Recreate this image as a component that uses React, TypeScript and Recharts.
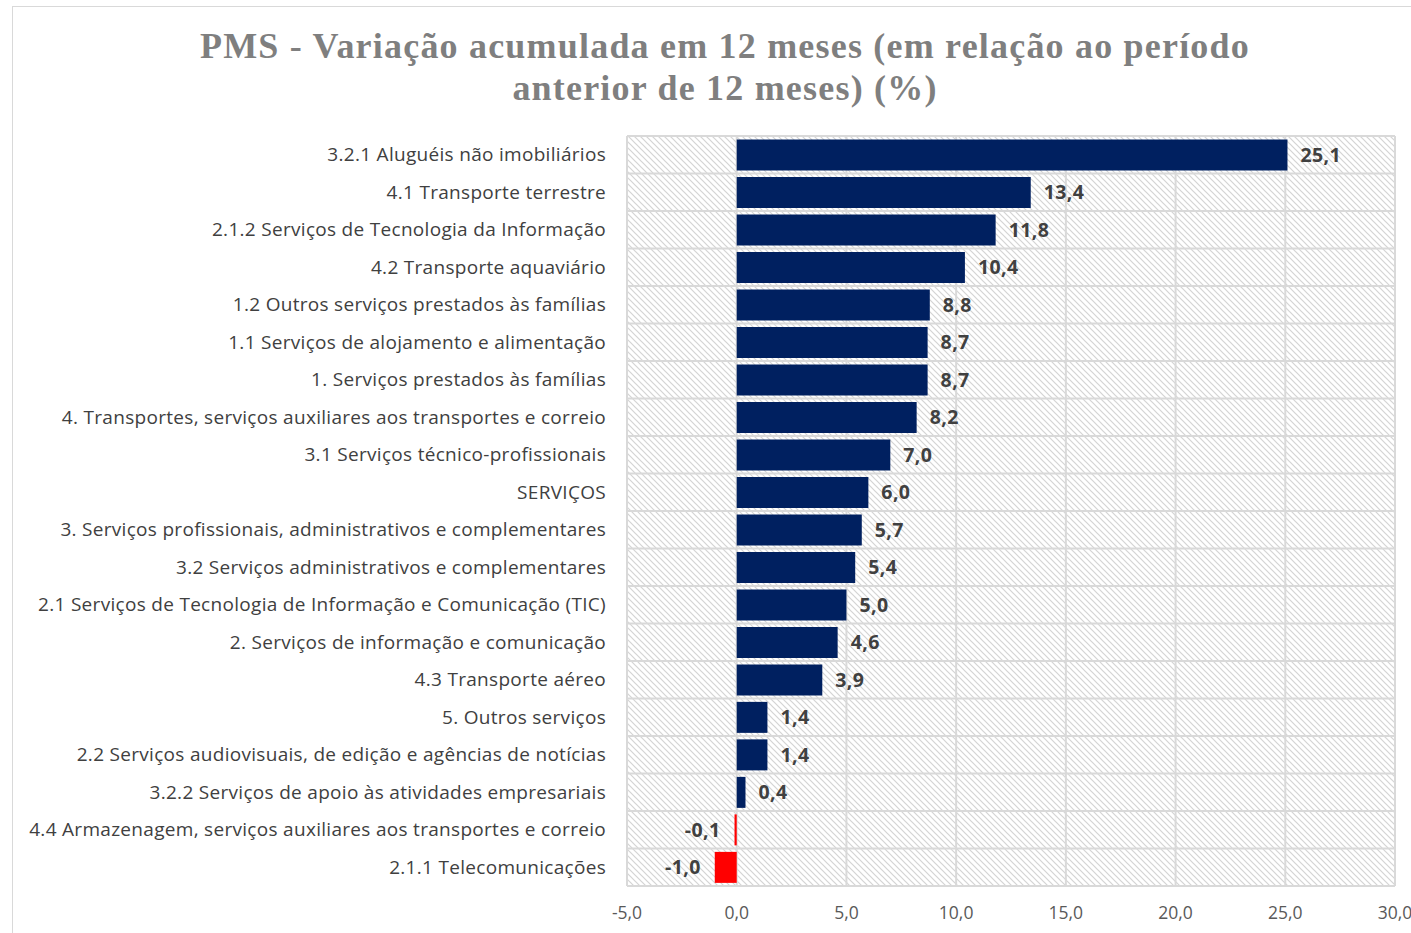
import React from 'react';
import { BarChart, Bar, XAxis, YAxis, CartesianGrid, LabelList, Cell } from 'recharts';

const CATEGORIES = [
  '3.2.1 Aluguéis não imobiliários',
  '4.1 Transporte terrestre',
  '2.1.2 Serviços de Tecnologia da Informação',
  '4.2 Transporte aquaviário',
  '1.2 Outros serviços prestados às famílias',
  '1.1 Serviços de alojamento e alimentação',
  '1. Serviços prestados às famílias',
  '4. Transportes, serviços auxiliares aos transportes e correio',
  '3.1 Serviços técnico-profissionais',
  'SERVIÇOS',
  '3. Serviços profissionais, administrativos e complementares',
  '3.2 Serviços administrativos e complementares',
  '2.1 Serviços de Tecnologia de Informação e Comunicação (TIC)',
  '2. Serviços de informação e comunicação',
  '4.3 Transporte aéreo',
  '5. Outros serviços',
  '2.2 Serviços audiovisuais, de edição e agências de notícias',
  '3.2.2 Serviços de apoio às atividades empresariais',
  '4.4 Armazenagem, serviços auxiliares aos transportes e correio',
  '2.1.1 Telecomunicações',
];

const VALUES = [25.1, 13.4, 11.8, 10.4, 8.8, 8.7, 8.7, 8.2, 7.0, 6.0, 5.7, 5.4, 5.0, 4.6, 3.9, 1.4, 1.4, 0.4, -0.1, -1.0];

const X_TICKS = [-5, 0, 5, 10, 15, 20, 25, 30];

const TITLE_LINES = [
  'PMS - Variação acumulada em 12 meses (em relação ao período',
  'anterior de 12 meses) (%)',
];

const data = CATEGORIES.map((name, i) => ({ name, value: VALUES[i] }));

const fmt = (v: number) => v.toFixed(1).replace('.', ',');
const LABEL_FONT = '"Open Sans", Lato, sans-serif';

// horizontal grid lines sit on the boundaries between category rows
const rowLines = ({ offset }: any) =>
  [...CATEGORIES.map((_, i) => i), CATEGORIES.length].map(
    (i) => offset.top + (offset.height * i) / CATEGORIES.length,
  );

const ValueLabel = (props: any) => {
  const { x, y, width, height, value } = props;
  const neg = value < 0;
  return (
    <text
      x={neg ? Math.min(x, x + width) - 14 : x + width + 13}
      y={y + height / 2}
      dy="0.36em"
      textAnchor={neg ? 'end' : 'start'}
      fontFamily={LABEL_FONT}
      fontWeight={700}
      fontSize={19.5}
      letterSpacing={0.4}
      fill="#404040"
    >
      {fmt(value)}
    </text>
  );
};

const App: React.FC = () => {
  return (
    <div style={{ position: 'absolute', left: 0, top: 0, width: 1411, height: 933, background: '#fff', overflow: 'hidden' }}>
      <div
        style={{
          position: 'absolute', left: 12, top: 6, width: 1420, height: 960,
          border: '1.5px solid #d9d9d9', boxSizing: 'border-box',
        }}
      />
      <div
        style={{
          position: 'absolute', left: 0, top: 25, width: 1450, textAlign: 'center',
          fontFamily: '"Liberation Serif", serif', fontWeight: 700, fontSize: 36,
          letterSpacing: 1.2, lineHeight: '42px', color: '#7f7f7f',
        }}
      >
        {TITLE_LINES.map((t) => (
          <div key={t}>{t}</div>
        ))}
      </div>
      <div style={{ position: 'absolute', left: 0, top: 0 }}>
        <BarChart
          width={1411}
          height={933}
          data={data}
          layout="vertical"
          margin={{ top: 136, right: 16, bottom: 7, left: 0 }}
          barCategoryGap="9%"
        >
          <defs>
            <pattern id="hatch" width="6" height="6" patternUnits="userSpaceOnUse">
              <rect width="6" height="6" fill="#ffffff" />
              <path d="M0,0 L6,6 M-1,5 L1,7 M5,-1 L7,1" stroke="#d4d4d4" strokeWidth={1.2} />
            </pattern>
          </defs>
          <CartesianGrid
            stroke="#d9d9d9"
            strokeWidth={2}
            fill="url(#hatch)"
            fillOpacity={1}
            horizontalCoordinatesGenerator={rowLines}
          />
          <XAxis
            type="number"
            domain={[-5, 30]}
            ticks={X_TICKS}
            tickFormatter={fmt}
            axisLine={false}
            tickLine={false}
            tickSize={0}
            tickMargin={21}
            height={40}
            tick={{ fontFamily: LABEL_FONT, fontSize: 17.5, fill: '#595959' }}
          />
          <YAxis
            type="category"
            dataKey="name"
            width={627}
            interval={0}
            axisLine={false}
            tickLine={false}
            tickSize={0}
            tickMargin={21}
            tick={{ fontFamily: LABEL_FONT, fontSize: 19, letterSpacing: 0.3, fill: '#404040' }}
          />
          <Bar dataKey="value" fill="#002060" isAnimationActive={false}>
            {data.map((d) => (
              <Cell key={d.name} fill={d.value < 0 ? '#ff0000' : '#002060'} />
            ))}
            <LabelList dataKey="value" content={<ValueLabel />} />
          </Bar>
        </BarChart>
      </div>
    </div>
  );
};

export default App;
